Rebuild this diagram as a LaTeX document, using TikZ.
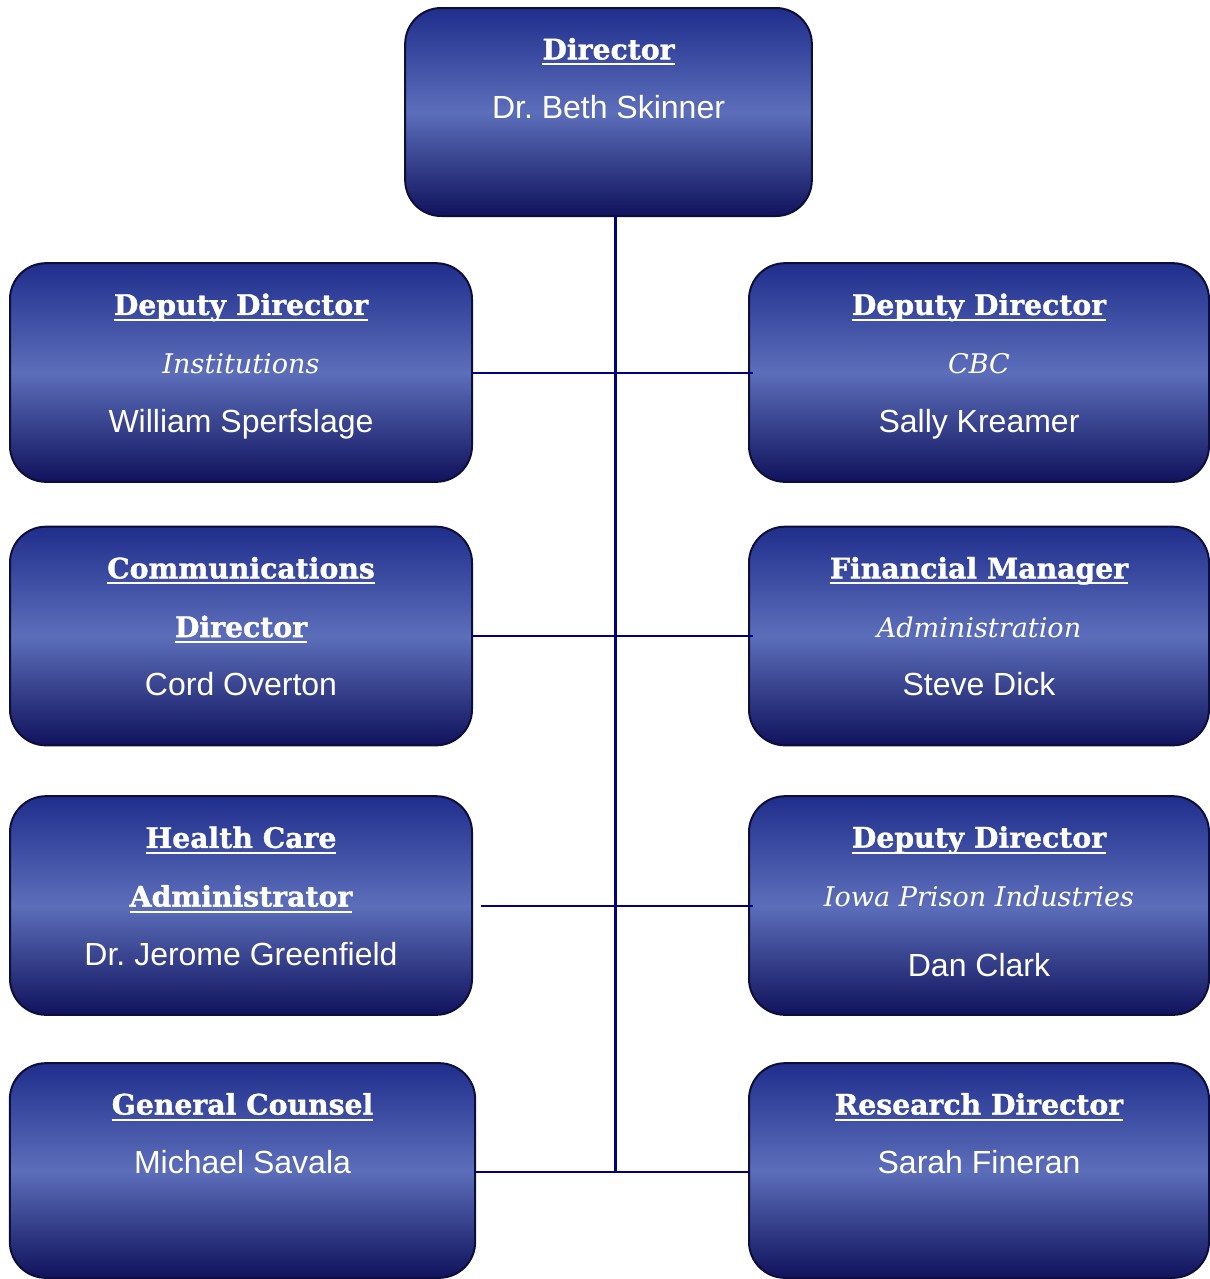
\documentclass[tikz,border=0pt]{standalone}
\usepackage{fontspec}
\setmainfont{Liberation Sans}
\newfontfamily\slabfont{DejaVu Serif}[BoldFeatures={FakeBold=1.2}]
\definecolor{boxtop}{RGB}{32,46,140}
\definecolor{boxmid}{RGB}{92,110,186}
\definecolor{boxbot}{RGB}{16,18,92}
\definecolor{boxedge}{RGB}{14,14,58}
\definecolor{linknavy}{RGB}{0,0,128}
\newsavebox{\headbox}
\newcommand{\posthead}[1]{{\fontsize{21.2}{44}\slabfont\bfseries
    \sbox{\headbox}{#1}\rlap{\rule[-4.5pt]{\wd\headbox}{1.5pt}}\usebox{\headbox}}}
\newcommand{\postunit}[1]{{\fontsize{20.3}{44}\slabfont\itshape #1}}

\begin{document}
\begin{tikzpicture}[x=0.75pt, y=-0.75pt,
    post/.style={rectangle, rounded corners=27pt, draw=boxedge, line width=1.5pt,
        top color=boxtop, bottom color=boxbot, middle color=boxmid,
        minimum width=346.5pt, minimum height=164pt, align=center,
        text depth=14.5pt, text=white, font=\fontsize{24}{44}\selectfont\frenchspacing},
    link/.style={draw=linknavy, line width=1.5pt}]
    \useasboundingbox (0,0) rectangle (1210,1279);
    % top of the chart
    \node[post, minimum width=305pt, minimum height=156pt, text depth=7pt] (dir) at (608.5,112)
        {\posthead{Director}\\Dr. Beth Skinner\\ \mbox{}};
    % left column
    \node[post] (ddi) at (241,372.5)
        {\posthead{Deputy Director}\\\postunit{Institutions}\\William Sperfslage};
    \node[post] (comm) at (241,636)
        {\posthead{Communications}\\\posthead{Director}\\Cord Overton};
    \node[post] (hca) at (241,905.5)
        {\posthead{Health Care}\\\posthead{Administrator}\\Dr. Jerome Greenfield};
    \node[post, minimum width=349pt, minimum height=161pt, text depth=12pt] (gc) at (242.5,1170.5)
        {\posthead{General Counsel}\\Michael Savala\\ \mbox{}};
    % right column
    \node[post, minimum width=345pt] (ddc) at (979,372.5)
        {\posthead{Deputy Director}\\\postunit{CBC}\\Sally Kreamer};
    \node[post, minimum width=345pt] (fin) at (979,636)
        {\posthead{Financial Manager}\\\postunit{Administration}\\Steve Dick};
    \node[post, minimum width=345pt, text depth=6pt] (ddp) at (979,905.5)
        {\posthead{Deputy Director}\\\postunit{Iowa Prison Industries}\\[9pt]Dan Clark};
    \node[post, minimum width=345pt, minimum height=161pt, text depth=12pt] (rd) at (979,1170.5)
        {\posthead{Research Director}\\Sarah Fineran\\ \mbox{}};
    % connectors
    \coordinate (spinetop) at (615,216);
    \coordinate (spinebot) at (615,1172);
    \draw[link, line width=2.25pt] (spinetop) -- (spinebot);
    \draw[link, shorten >=-4pt] (ddi.east) -- (ddc.west);
    \draw[link, shorten >=-4pt] (comm.east) -- (fin.west);
    \draw[link, shorten <=6pt, shorten >=-4pt] (hca.east) -- (ddp.west);
    \draw[link] (gc.east |- spinebot) -- (rd.west |- spinebot);
\end{tikzpicture}
\end{document}
